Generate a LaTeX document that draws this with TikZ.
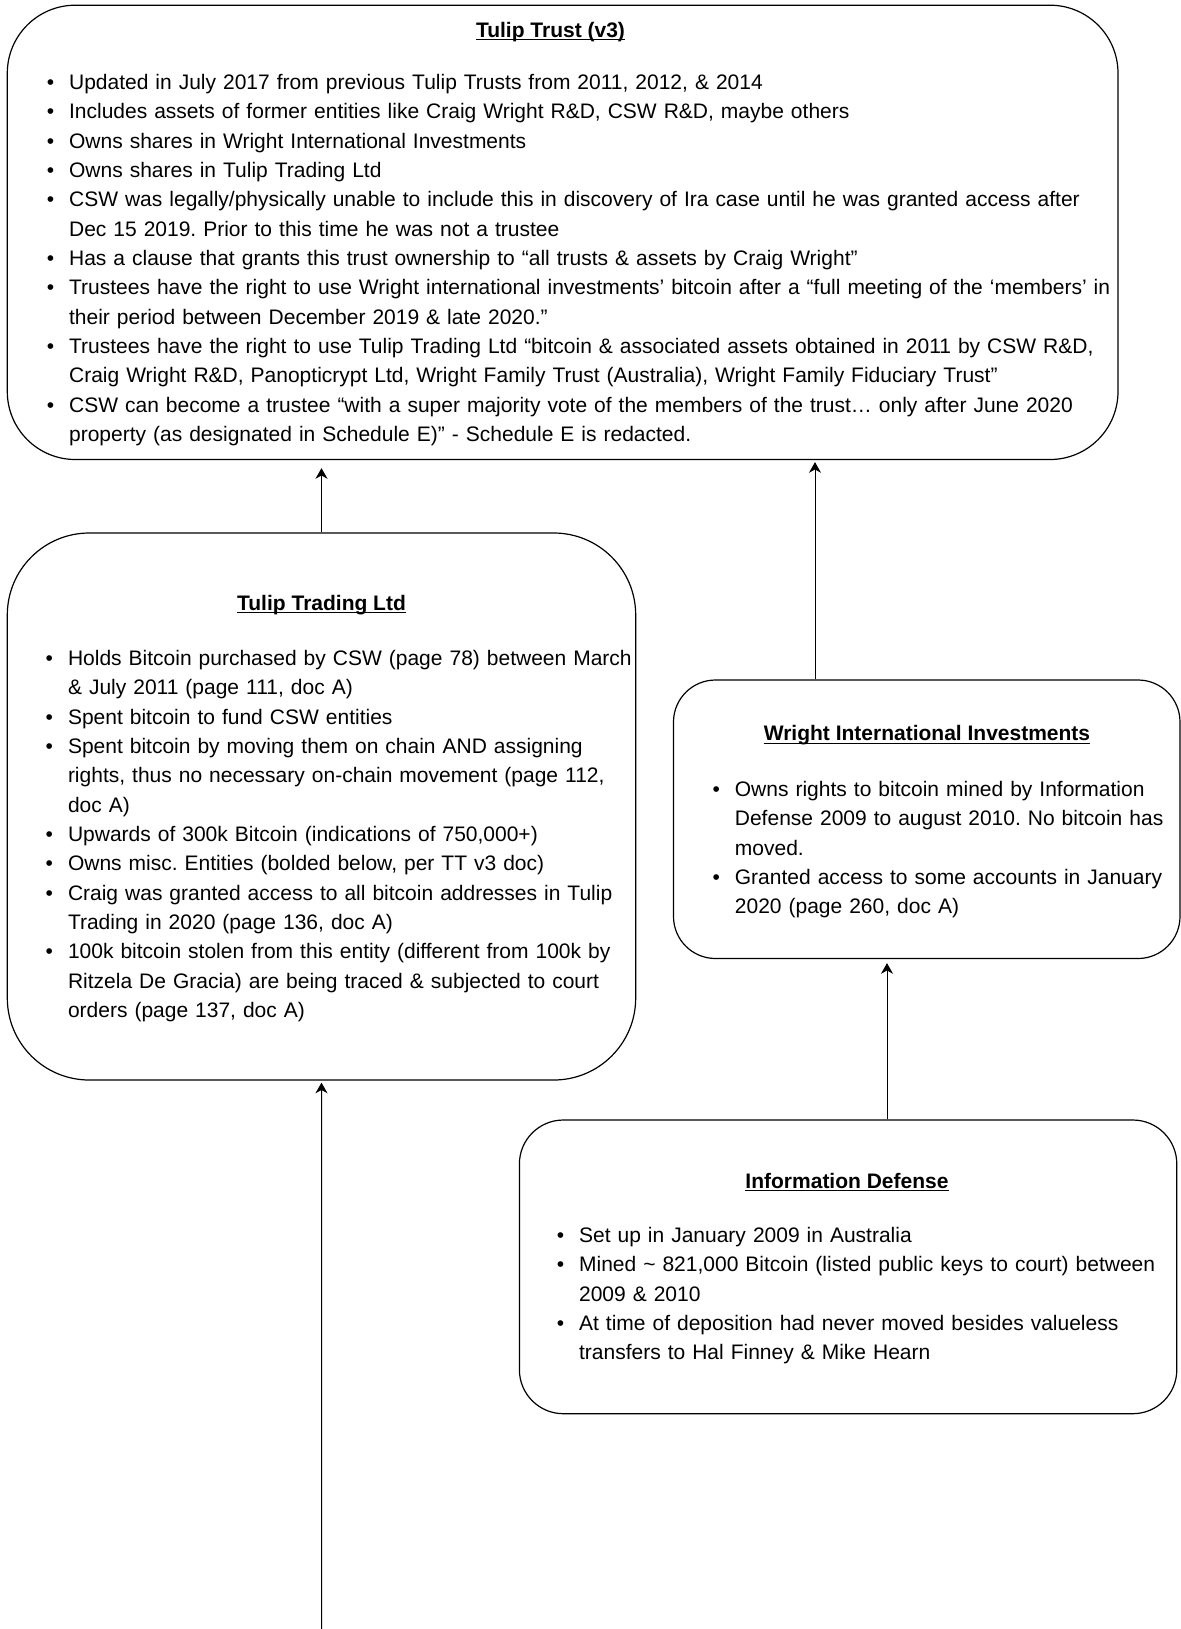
\documentclass[tikz,border=0pt]{standalone}
\usepackage{fontspec}
\setmainfont{Liberation Sans}
\usepackage{enumitem}
\usetikzlibrary{arrows.meta,fit}

\frenchspacing
\setlist[itemize]{leftmargin=16.8pt,labelwidth=5.6pt,labelsep=11.2pt,itemsep=0pt,parsep=0pt,topsep=0pt,partopsep=0pt,label=\strut\textbullet}
\newcommand{\cardhead}[1]{\textbf{\underline{\smash{#1}}}}

\tikzset{every picture/.style={line width=0.75pt}}
\tikzset{
  card/.style={draw, inner sep=0pt, line width=0.9pt},
  headtext/.style={anchor=base, inner sep=0pt, font=\fontsize{15.75}{22}\selectfont},
  listtext/.style={anchor=north west, inner sep=0pt, align=left, font=\fontsize{15.75}{22}\selectfont},
  feed/.style={-{Stealth[length=8pt,width=9pt,inset=2.5pt]}, line width=0.75pt},
}

\begin{document}
\begin{tikzpicture}[x=0.75pt,y=0.75pt,yscale=-1,xscale=1]
\path[use as bounding box] (0,0) rectangle (1181,1629);

%Rounded Rect [Tulip Trust]
\node[card, rounded corners=51pt, fit={(7.3,5.2) (1118,459.5)}] (trust) {};
%Rounded Rect [Tulip Trading]
\node[card, rounded corners=61.5pt, fit={(7.3,533) (635.7,1080)}] (trading) {};
%Rounded Rect [Wright International]
\node[card, rounded corners=31.5pt, fit={(673.5,680) (1180,958.5)}] (wright) {};
%Rounded Rect [Information Defense]
\node[card, rounded corners=33pt, fit={(519.4,1120) (1176.8,1413.7)}] (infodef) {};

% Text Node
\node[headtext] (trusthead) at (550.5,37.7) {\cardhead{Tulip Trust (v3)}};
% Text Node
\node[listtext, text width=820pt] (trustlist) at (46.2,59.6) {%
\begin{itemize}
\item Updated in July 2017 from previous Tulip Trusts from 2011, 2012, \& 2014
\item Includes assets of former entities like Craig Wright R\&D, CSW R\&D, maybe others
\item Owns shares in Wright International Investments
\item Owns shares in Tulip Trading Ltd
\item CSW was legally/physically unable to include this in discovery of Ira case until he was granted access after\newline Dec 15 2019. Prior to this time he was not a trustee
\item Has a clause that grants this trust ownership to “all trusts \& assets by Craig Wright”
\item Trustees have the right to use Wright international investments’ bitcoin after a “full meeting of the ‘members’ in\newline their period between December 2019 \& late 2020.”
\item Trustees have the right to use Tulip Trading Ltd “bitcoin \& associated assets obtained in 2011 by CSW R\&D,\newline Craig Wright R\&D, Panopticrypt Ltd, Wright Family Trust (Australia), Wright Family Fiduciary Trust”
\item CSW can become a trustee “with a super majority vote of the members of the trust… only after June 2020\newline property (as designated in Schedule E)” - Schedule E is redacted.
\end{itemize}};

% Text Node
\node[headtext] (tradinghead) at (321.5,610.1) {\cardhead{Tulip Trading Ltd}};
% Text Node
\node[listtext, text width=470pt] (tradinglist) at (45.1,635.8) {%
\begin{itemize}
\item Holds Bitcoin purchased by CSW (page 78) between March\newline \& July 2011 (page 111, doc A)
\item Spent bitcoin to fund CSW entities
\item Spent bitcoin by moving them on chain AND assigning\newline rights, thus no necessary on-chain movement (page 112,\newline doc A)
\item Upwards of 300k Bitcoin (indications of 750,000+)
\item Owns misc. Entities (bolded below, per TT v3 doc)
\item Craig was granted access to all bitcoin addresses in Tulip\newline Trading in 2020 (page 136, doc A)
\item 100k bitcoin stolen from this entity (different from 100k by\newline Ritzela De Gracia) are being traced \& subjected to court\newline orders (page 137, doc A)
\end{itemize}};

% Text Node
\node[headtext] (wrighthead) at (927,740.9) {\cardhead{Wright International Investments}};
% Text Node
\node[listtext, text width=360pt] (wrightlist) at (712,766.5) {%
\begin{itemize}
\item Owns rights to bitcoin mined by Information\newline Defense 2009 to august 2010. No bitcoin has\newline moved.
\item Granted access to some accounts in January\newline 2020 (page 260, doc A)
\end{itemize}};

% Text Node
\node[headtext] (infodefhead) at (847,1188.6) {\cardhead{Information Defense}};
% Text Node
\node[listtext, text width=470pt] (infodeflist) at (556.2,1212.6) {%
\begin{itemize}
\item Set up in January 2009 in Australia
\item Mined \textasciitilde{} 821,000 Bitcoin (listed public keys to court) between\newline 2009 \& 2010
\item At time of deposition had never moved besides valueless\newline transfers to Hal Finney \& Mike Hearn
\end{itemize}};

%Straight Lines
\draw[feed, shorten >=6pt] (trading.north) -- (trading.north |- trust.south);
%Straight Lines
\draw[feed, shorten >=1.5pt] (815,0 |- wright.north) -- (815,0 |- trust.south);
%Straight Lines
\draw[feed, shorten >=3pt] (887,0 |- infodef.north) -- (887,0 |- wright.south);
%Straight Lines
\coordinate (feedin) at (321.5,1632);
\draw[feed, shorten >=1.5pt] (feedin) -- (trading.south);

\end{tikzpicture}
\end{document}
